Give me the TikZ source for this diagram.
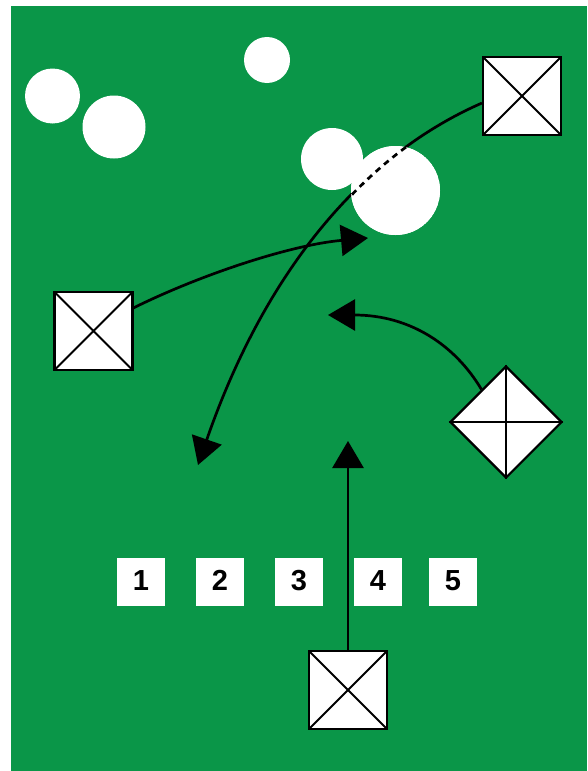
\documentclass[tikz,border=0pt]{standalone}
\usepackage{fontspec}
\setmainfont{Liberation Sans}
\usetikzlibrary{shapes.geometric,arrows.meta,calc}
\definecolor{field}{RGB}{10,150,72}
\begin{document}
\begin{tikzpicture}[x=1pt,y=-1pt,
  ball/.style={circle,fill=white,inner sep=0pt,minimum size=#1},
  xbox/.style={draw=black,line width=2.2pt,fill=white,minimum size=78pt,inner sep=0pt,
    path picture={\draw[line width=2pt] (path picture bounding box.north west)--(path picture bounding box.south east)
      (path picture bounding box.north east)--(path picture bounding box.south west);}},
  dbox/.style={diamond,draw=black,line width=2.2pt,fill=white,minimum width=112pt,minimum height=112pt,inner sep=0pt,aspect=1},
  numbox/.style={fill=white,minimum size=48pt,inner sep=0pt,font=\bfseries\fontsize{29}{29}\selectfont},
  arr/.style={line width=2.7pt,-{Triangle[length=27pt,width=31pt]}},
  plain/.style={line width=2.7pt}
]
\useasboundingbox (0,0) rectangle (587,771);
\fill[field] (11,6) rectangle (587,771);
% balls
\node[ball=55pt] (c1) at (52.5,96) {};
\node[ball=63pt] (c2) at (114,127) {};
\node[ball=46pt] (c3) at (267,60) {};
\node[ball=62pt] (c4) at (332,159) {};
\node[ball=89pt] (c5) at (395.5,190.5) {};
% players
\node[xbox] (tr) at (522,96) {};
\node[xbox] (lb) at (93.5,331) {};
\node[xbox] (bb) at (348,690) {};
\node[dbox] (dm) at (506,422) {};
\draw[line width=2pt] (dm.north) -- (dm.south) (dm.west) -- (dm.east);
% numbered cones
\node[numbox] (n1) at (141,582) {\raisebox{3pt}{1}};
\node[numbox] (n2) at (220,582) {\raisebox{3pt}{2}};
\node[numbox] (n3) at (299,582) {\raisebox{3pt}{3}};
\node[numbox] (n4) at (378,582) {\raisebox{3pt}{4}};
\node[numbox] (n5) at (453,582) {\raisebox{3pt}{5}};
% arrow targets
\coordinate (a1) at (198,465);
\coordinate (a2) at (368,238);
\coordinate (a3) at (328,315);
\coordinate (a4) at (348,441);
% arrows
\draw[arr] (tr.190) .. controls (356,158) and (262,280) .. (a1);
\begin{scope}
  \clip (c5.center) circle (44.5);
  \fill[white] (c5.center) circle (44.5);
  \draw[plain,dash pattern=on 6pt off 5pt] (tr.190) .. controls (356,158) and (262,280) .. (a1);
\end{scope}
\draw[arr] (lb.30) .. controls (200,275) and (290,245) .. (a2);
\draw[arr] (dm.127) .. controls (455,345) and (410,315) .. (a3);
\draw[arr] (bb.north) -- (a4);
\end{tikzpicture}
\end{document}
